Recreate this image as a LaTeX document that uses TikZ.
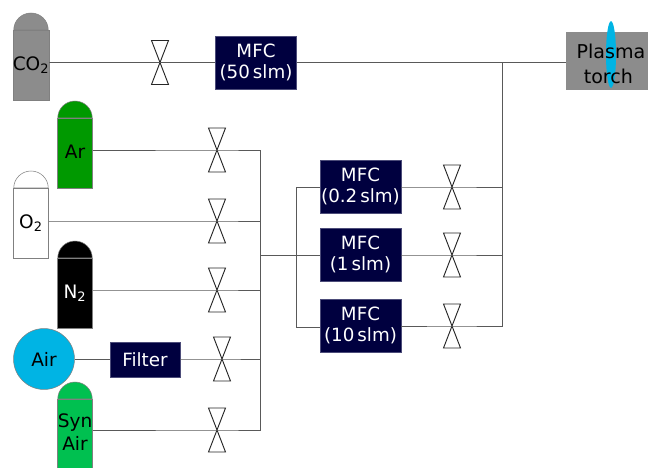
\documentclass[tikz,border=0pt]{standalone}
\usepackage{fontspec}
\setmainfont{DejaVu Sans}
\usetikzlibrary{calc,shapes.geometric}
\definecolor{mfcnavy}{HTML}{00003F}
\definecolor{cogray}{HTML}{8C8C8C}
\definecolor{argreen}{HTML}{009900}
\definecolor{airblue}{HTML}{00B4E4}
\definecolor{syngreen}{HTML}{00C050}
\tikzset{
  tank/.style={draw=gray, font=\fontsize{13.9}{15}\selectfont, inner sep=0pt, text depth=2.5pt, minimum width=25.9pt, minimum height=52.5pt, align=center},
  ctrl/.style={draw=mfcnavy!70, line width=0.5pt, fill=mfcnavy, text=white, font=\fontsize{13.7}{15.75}\selectfont, inner sep=0pt, minimum width=60.5pt, minimum height=39.5pt, align=center},
  pipe/.style={draw=black!65, line width=0.7pt},
  valve/.style={draw=black!85, line width=0.7pt}
}
\newcommand{\valvesym}[1]{\draw[valve] (#1)+(-8.5,-22) -- +(8.5,-22) -- +(-8.5,22) -- +(8.5,22) -- cycle;}
\begin{document}
\begin{tikzpicture}[x=0.75pt,y=-0.75pt]
\useasboundingbox (0,0) rectangle (648,467);
% gas bottles
\node[draw=gray, fill=airblue, circle, inner sep=0pt, minimum size=45.7pt, font=\fontsize{13.9}{15}\selectfont] (air) at (44,359) {Air};
\foreach \n/\x/\y/\c/\t/\l in {co2/31/65/cogray/black/CO\textsubscript{2},ar/75/153/argreen/black/Ar,o2/31/223/white/black/O\textsubscript{2},n2/75/293/black/white/N\textsubscript{2}} {
  \draw[draw=gray, fill=\c] (\x-17.25,\y-35) arc[start angle=180, end angle=360, x radius=17.25, y radius=17] -- cycle;
  \node[tank, fill=\c, text=\t] (\n) at (\x,\y) {\l};
}
\draw[draw=gray, fill=syngreen] (57.75,399) arc[start angle=180, end angle=360, x radius=17.25, y radius=17] -- cycle;
\node[tank, fill=syngreen, font=\fontsize{13.9}{17}\selectfont] (syn) at (75,434) {Syn\\Air};
% valves
\coordinate (vco) at (160,62.5);
\coordinate (var) at (217,150);
\coordinate (vot) at (217,221);
\coordinate (vnt) at (217,290);
\coordinate (vair) at (222,359);
\coordinate (vsyn) at (217,430);
\coordinate (vlow) at (452,187);
\coordinate (vmid) at (452,255);
\coordinate (vhigh) at (452,326);
\foreach \v in {vco,var,vot,vnt,vair,vsyn,vlow,vmid,vhigh} {
  \valvesym{\v}
}
% controllers
\node[ctrl] (mfcmain) at (256,62.5) {MFC\\(50\,slm)};
\node[ctrl] (mfclow) at (360.5,186.5) {MFC\\(0.2\,slm)};
\node[ctrl] (mfcmid) at (360.5,254.5) {MFC\\(1\,slm)};
\node[ctrl] (mfchigh) at (360.5,325.5) {MFC\\(10\,slm)};
\node[ctrl, minimum width=52.5pt, minimum height=26pt] (filter) at (145,359.5) {Filter};
% torch
\node[fill=cogray, inner sep=0pt, minimum width=61.5pt, minimum height=43.5pt] (box) at (607,61) {};
\node[fill=airblue, ellipse, inner sep=0pt, minimum width=7.5pt, minimum height=50pt] (flame) at (611,54.5) {};
\node[font=\fontsize{14.3}{18.7}\selectfont, align=center, inner sep=0pt] (torch) at (611,64) {Plasma\\torch\hspace*{4pt}};
% pipes
\coordinate (bustop) at (260,150);
\coordinate (busbot) at (260,430);
\coordinate (busmid) at (260,255);
\coordinate (splittop) at (296,187);
\coordinate (splitmid) at (296,255);
\coordinate (splitbot) at (296,327);
\coordinate (jtop) at (502,62.5);
\coordinate (jbot) at (502,326);
\draw[pipe] (co2.east |- vco) -- (vco) -- (mfcmain.west |- vco);
\draw[pipe] (mfcmain.east |- jtop) -- (jtop) -- (box.west |- jtop);
\draw[pipe] (ar.east |- var) -- (var) -- (bustop) -- (busbot) -- (vsyn) -- (syn.east |- vsyn);
\draw[pipe] (o2.east |- vot) -- (vot) -- (vot -| bustop);
\draw[pipe] (n2.east |- vnt) -- (vnt) -- (vnt -| bustop);
\draw[pipe] (air) -- (filter.west |- air);
\draw[pipe] (filter.east |- vair) -- (vair) -- (vair -| bustop);
\draw[pipe] (busmid) -- (splitmid);
\draw[pipe] (mfclow.west |- splittop) -- (splittop) -- (splitbot) -- (mfchigh.west |- splitbot);
\draw[pipe] (splitmid) -- (mfcmid.west |- splitmid);
\draw[pipe] (jtop) -- (jbot) -- (vhigh) -- (mfchigh.east |- vhigh);
\draw[pipe] (mfclow.east |- vlow) -- (vlow) -- (vlow -| jtop);
\draw[pipe] (mfcmid.east |- vmid) -- (vmid) -- (vmid -| jtop);
\end{tikzpicture}
\end{document}
